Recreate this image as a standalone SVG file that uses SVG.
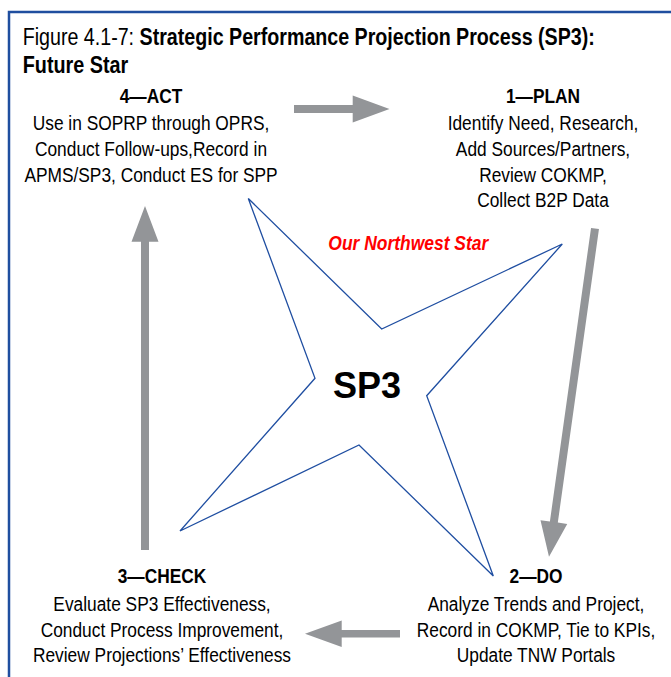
<svg xmlns="http://www.w3.org/2000/svg" width="671" height="677" viewBox="0 0 671 677">
<style>
.t{font-family:"Liberation Sans",Arial,sans-serif;font-size:21px;fill:#000;text-anchor:middle}
.b{font-weight:bold}
.ttl{font-family:"Liberation Sans",Arial,sans-serif;font-size:24px;fill:#000}
.arrow{fill:#939598;stroke:none}
.star{fill:none;stroke:#1f4ea1;stroke-width:1.3;stroke-linejoin:miter}
.frame{stroke:#1f4e9f;stroke-width:2.5;fill:none}
</style>
<rect x="0" y="0" width="671" height="677" fill="#fff"/>
<g id="frame">
<path class="frame" d="M9 677 V12 H671"/>
</g>
<g id="title">
<text class="ttl" transform="translate(22.7 45) scale(0.819 1)">Figure 4.1-7: <tspan class="b">Strategic Performance Projection Process (SP3):</tspan></text>
<text class="ttl b" transform="translate(22.7 73) scale(0.825 1)">Future Star</text>
</g>
<g id="connectors">
<polygon id="arrow-act-plan" class="arrow" points="294,105 352.7,105 352.7,95.5 389.5,109 352.7,122.5 352.7,113 294,113"/>
<polygon id="arrow-plan-do" class="arrow" points="598.96,229.06 557.82,522.6 567.23,523.91 549,556.7 540.49,520.17 549.9,521.48 591.04,227.94"/>
<polygon id="arrow-do-check" class="arrow" points="400,630 341.7,630 341.7,620.5 305,633.7 341.7,647 341.7,637.5 400,637.5"/>
<polygon id="arrow-check-act" class="arrow" points="141,550 141,241.7 131.5,241.7 145,206 158.5,241.7 149,241.7 149,550"/>
</g>
<g id="star">
<polygon class="star" points="248.3,198.5 381.7,329 562.3,244 426.7,395.7 493.3,576 359,445 180,531 315,378.3"/>
<text transform="translate(408.3 250) scale(0.831 1)" font-family="Liberation Sans,Arial,sans-serif" font-size="21" font-weight="bold" font-style="italic" fill="#ff0000" text-anchor="middle">Our Northwest Star</text>
<text x="367" y="398" font-family="Liberation Sans,Arial,sans-serif" font-size="36" font-weight="bold" fill="#000" text-anchor="middle">SP3</text>
</g>
<g id="act">
<text class="t b" transform="translate(151 102.5) scale(0.825 1)">4—ACT</text>
<text class="t" transform="translate(151 130) scale(0.825 1)">Use in SOPRP through OPRS,</text>
<text class="t" transform="translate(151 156) scale(0.825 1)">Conduct Follow-ups,Record in</text>
<text class="t" transform="translate(151 182) scale(0.825 1)">APMS/SP3, Conduct ES for SPP</text>
</g>
<g id="plan">
<text class="t b" transform="translate(543 102.5) scale(0.825 1)">1—PLAN</text>
<text class="t" transform="translate(543 130) scale(0.825 1)">Identify Need, Research,</text>
<text class="t" transform="translate(543 156) scale(0.825 1)">Add Sources/Partners,</text>
<text class="t" transform="translate(543 181.5) scale(0.825 1)">Review COKMP,</text>
<text class="t" transform="translate(543 207) scale(0.825 1)">Collect B2P Data</text>
</g>
<g id="check">
<text class="t b" transform="translate(162 583) scale(0.825 1)">3—CHECK</text>
<text class="t" transform="translate(162 611) scale(0.825 1)">Evaluate SP3 Effectiveness,</text>
<text class="t" transform="translate(162 636.5) scale(0.825 1)">Conduct Process Improvement,</text>
<text class="t" transform="translate(162 662) scale(0.825 1)">Review Projections’ Effectiveness</text>
</g>
<g id="do">
<text class="t b" transform="translate(536 583) scale(0.825 1)">2—DO</text>
<text class="t" transform="translate(536 611) scale(0.825 1)">Analyze Trends and Project,</text>
<text class="t" transform="translate(536 636.5) scale(0.825 1)">Record in COKMP, Tie to KPIs,</text>
<text class="t" transform="translate(536 662) scale(0.825 1)">Update TNW Portals</text>
</g>
</svg>
